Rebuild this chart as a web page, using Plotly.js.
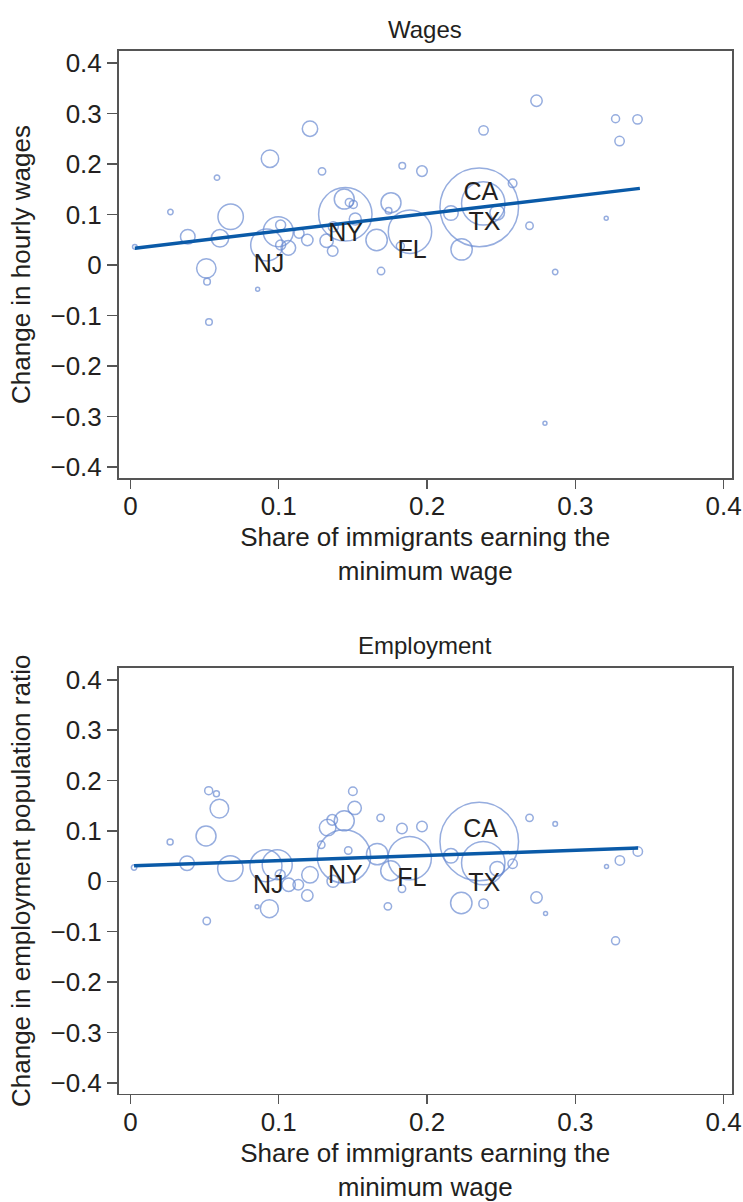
<!DOCTYPE html>
<html><head><meta charset="utf-8">
<script src="https://cdn.plot.ly/plotly-3.0.1.min.js"></script>
<style>html,body{margin:0;padding:0;background:#fff}#chart{width:743px;height:1202px}</style>
</head><body><div id="chart"></div>
<script>
// ---- Wages panel data ----
const wagesShare = [0.003,0.027,0.0387,0.0512,0.0517,0.053,0.0584,0.0604,0.0676,0.0941,0.0919,0.0997,0.1013,0.1013,0.1065,0.1137,0.1193,0.1211,0.1292,0.1323,0.1364,0.1368,0.1449,0.1442,0.1476,0.1503,0.1516,0.166,0.169,0.1757,0.1741,0.1833,0.1966,0.1885,0.182,0.0858,0.2738,0.2381,0.3271,0.3419,0.3298,0.2352,0.2379,0.2577,0.2161,0.2473,0.2233,0.2691,0.3208,0.2864,0.2795];
const wagesChange = [0.036,0.105,0.056,-0.0066,-0.033,-0.113,0.173,0.053,0.0957,0.2105,0.0396,0.066,0.079,0.0396,0.034,0.063,0.0495,0.27,0.1855,0.048,0.0277,0.076,0.1004,0.1307,0.124,0.120,0.091,0.0495,-0.012,0.1234,0.1075,0.1967,0.186,0.066,0.0376,-0.048,0.3253,0.2667,0.2897,0.2885,0.2455,0.1142,0.122,0.1618,0.103,0.1036,0.031,0.0778,0.0925,-0.0139,-0.3135];
const wagesWeight = [2.3,2.7,7.3,9.7,3.3,3.3,2.7,8.7,12.7,8.7,16,15,5,5,7.3,5,5.7,7.7,3.7,6.7,5.3,5,26.7,10,4,4,6,10.7,3.7,10,3.3,3.3,5.3,21.7,4,2,5.7,4.7,4,4.7,4.7,39.3,21.7,4.3,7.3,7.3,10.7,3.7,2,2.7,2];

// ---- Employment panel data ----
const empShare = [0.0025,0.0268,0.0382,0.051,0.0515,0.0528,0.058,0.060,0.0674,0.0937,0.0914,0.099,0.101,0.0854,0.1067,0.1132,0.1193,0.1211,0.1287,0.133,0.1361,0.1442,0.150,0.1512,0.144,0.1469,0.1366,0.1664,0.1687,0.1755,0.1736,0.1831,0.1831,0.1966,0.1883,0.2352,0.2379,0.2161,0.2473,0.2577,0.2231,0.2381,0.2738,0.2799,0.2691,0.2864,0.321,0.33,0.3421,0.3271];
const empChange = [0.0275,0.078,0.036,0.090,-0.0787,0.180,0.174,0.1444,0.0256,-0.0543,0.031,0.033,0.013,-0.0503,-0.0067,-0.0067,-0.028,0.013,0.0725,0.1067,0.122,0.12,0.1788,0.1457,0.0493,0.0612,0.0,0.054,0.126,0.021,-0.0497,-0.0147,0.1048,0.1087,0.046,0.079,0.0362,0.0507,0.025,0.0349,-0.043,-0.0444,-0.032,-0.064,0.126,0.114,0.0295,0.0414,0.0592,-0.118];
const empWeight = [2.7,3,7.3,10,3.7,4,3,9.3,12.7,9,16,15,5,2,6.7,5.3,5.7,8.3,3.7,8.3,5.3,10,4.3,6.7,26.7,3.7,6,10.7,3.7,10,3.7,3.7,5.3,5.3,21.7,39.3,21.7,7.3,7.3,4.7,10.7,4.7,5.7,2,3.7,2.3,2,4.7,4.7,4];

// ---- Fitted lines (endpoints) ----
const fitShareW = [0.003, 0.3435];
const fitWages = [0.0334, 0.1518];
const fitShareE = [0.0025, 0.3423];
const fitEmp = [0.031, 0.066];

// ---- State labels ----
const labelStates = ["NJ","NY","FL","CA","TX"];
const wagesLabelX = [0.0935,0.1451,0.190,0.2363,0.2388];
const wagesLabelY = [-0.002,0.0594,0.0264,0.142,0.0826];
const empLabelX = [0.093,0.1449,0.1898,0.2361,0.2386];
const empLabelY = [-0.010,0.0097,0.0032,0.1008,-0.0067];

// ---- Ticks ----
const xTicks = [0,0.1,0.2,0.3,0.4];
const yTicks = [-0.4,-0.3,-0.2,-0.1,0,0.1,0.2,0.3,0.4];

const FONT = '"Liberation Sans", Arial, Helvetica, sans-serif';
const TXT = '#231f20';
const AX = '#555555';
const BUB = '#6a8bd2';
const LINE = '#0a5aa8';

function bubbles(x, y, w, xa, ya){
  return {type:'scatter', mode:'markers', x:x, y:y, xaxis:xa, yaxis:ya, hoverinfo:'skip',
    marker:{size:w.map(v=>2*v), color:'rgba(0,0,0,0)', line:{color:BUB, width:1.5}}, showlegend:false};
}
function fit(x, y, xa, ya){
  return {type:'scatter', mode:'lines', x:x, y:y, xaxis:xa, yaxis:ya, line:{color:LINE, width:3.5}, showlegend:false, hoverinfo:'skip'};
}
function labels(x, y, xa, ya){
  return {type:'scatter', mode:'text', x:x, y:y, text:labelStates, xaxis:xa, yaxis:ya,
    textposition:'middle center', textfont:{family:FONT, size:25, color:TXT}, showlegend:false, hoverinfo:'skip'};
}

const data = [
  bubbles(wagesShare, wagesChange, wagesWeight, 'x', 'y'),
  fit(fitShareW, fitWages, 'x', 'y'),
  labels(wagesLabelX, wagesLabelY, 'x', 'y'),
  bubbles(empShare, empChange, empWeight, 'x2', 'y2'),
  fit(fitShareE, fitEmp, 'x2', 'y2'),
  labels(empLabelX, empLabelY, 'x2', 'y2')
];

const xTitle = 'Share of immigrants earning the<br>minimum wage';
function xaxis(anchor){
  return {domain:[0.1595,0.9852], range:[-0.008,0.4056], anchor:anchor, tickvals:xTicks,
    ticks:'outside', ticklen:9, tickwidth:1.5, tickcolor:AX, showline:true, linecolor:AX, linewidth:1.5,
    mirror:true, showgrid:false, zeroline:false, tickfont:{family:FONT, size:26, color:TXT},
    ticklabelstandoff:-5,
    title:{text:xTitle, font:{family:FONT, size:26, color:TXT}, standoff:8}};
}
function yaxis(anchor, dom, title){
  return {domain:dom, range:[-0.422,0.424], anchor:anchor, tickvals:yTicks,
    ticks:'outside', ticklen:10, tickwidth:1.5, tickcolor:AX, showline:true, linecolor:AX, linewidth:1.5,
    mirror:true, showgrid:false, zeroline:false, tickfont:{family:FONT, size:26, color:TXT},
    title:{text:title, font:{family:FONT, size:26, color:TXT}, standoff:12}};
}

const layout = {
  width:743, height:1202, margin:{l:0,r:0,t:0,b:0}, paper_bgcolor:'#fff', plot_bgcolor:'#fff',
  font:{family:FONT, color:TXT},
  xaxis: xaxis('y'),
  yaxis: yaxis('x', [0.6023,0.9576], 'Change in hourly wages'),
  xaxis2: xaxis('y2'),
  yaxis2: yaxis('x2', [0.0899,0.4445], 'Change in employment population ratio'),
  annotations:[
    {text:'Wages', xref:'paper', yref:'paper', x:0.5724, y:1-30/1202, xanchor:'center', yanchor:'middle', showarrow:false, font:{family:FONT, size:24, color:TXT}},
    {text:'Employment', xref:'paper', yref:'paper', x:0.5724, y:1-645/1202, xanchor:'center', yanchor:'middle', showarrow:false, font:{family:FONT, size:24, color:TXT}}
  ]
};

Plotly.newPlot('chart', data, layout, {staticPlot:true, displayModeBar:false});
</script>
</body></html>
